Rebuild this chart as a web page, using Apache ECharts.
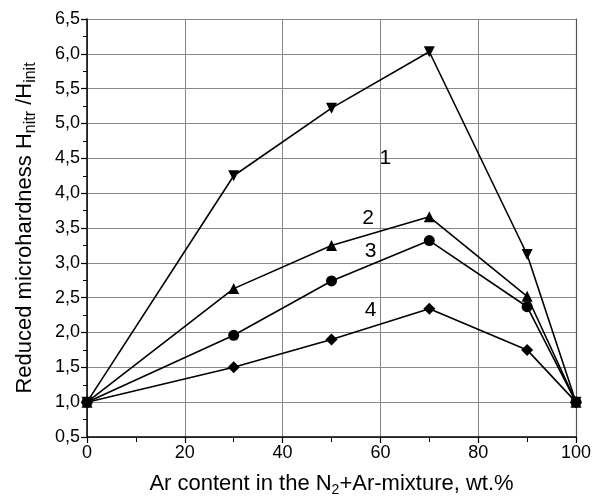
<!DOCTYPE html>
<html>
<head>
<meta charset="utf-8">
<script src="https://cdn.jsdelivr.net/npm/echarts@6/dist/echarts.min.js"></script>
<style>
  html, body { margin: 0; padding: 0; background: #fff; }
  #chart { width: 600px; height: 496px; }
</style>
</head>
<body>
<div id="chart"></div>
<script>
// Ar content, wt.%
let arContent = [0, 30, 50, 70, 90, 100];

// reduced microhardness for curves 1..4
let curve1 = [1.0, 4.25, 5.22, 6.03, 3.12, 1.0];
let curve2 = [1.0, 2.63, 3.25, 3.66, 2.52, 1.0];
let curve3 = [1.0, 1.96, 2.74, 3.32, 2.37, 1.0];
let curve4 = [1.0, 1.50, 1.90, 2.34, 1.75, 1.0];

let curveSymbols = ['triangle', 'triangle', 'circle', 'diamond'];
let curveRotate = [180, 0, 0, 0];

// curve number labels (data coords)
let labelText = ['1', '2', '3', '4'];
let labelX = [61, 57.5, 58, 58];
let labelY = [4.5, 3.64, 3.16, 2.32];

let fontFam = '"Liberation Sans", Arial, sans-serif';

function pairs(ys) {
    return arContent.map((x, i) => [x, ys[i]]);
}

let series = [curve1, curve2, curve3, curve4].map((ys, k) => ({
    type: 'line',
    data: pairs(ys),
    symbol: curveSymbols[k],
    symbolRotate: curveRotate[k],
    symbolSize: curveSymbols[k] === 'diamond' ? 12 : 11,
    showAllSymbol: true,
    itemStyle: { color: '#000' },
    lineStyle: { color: '#000', width: 1.6 },
    z: 3
}));

// curve numbers
series.push({
    type: 'scatter',
    symbolSize: 1,
    itemStyle: { color: 'rgba(0,0,0,0)', opacity: 1 },
    data: labelText.map((t, i) => ({ value: [labelX[i], labelY[i]], name: t })),
    label: {
        show: true,
        position: 'inside',
        formatter: p => p.name,
        color: '#000',
        opacity: 1,
        fontSize: 21,
        fontFamily: fontFam
    },
    z: 4
});

let option = {
    animation: false,
    backgroundColor: '#fff',
    grid: { left: 87, right: 24, top: 19, bottom: 59, outerBoundsMode: 'none' },
    xAxis: {
        type: 'value',
        min: 0,
        max: 100,
        interval: 20,
        name: '{a|Ar content in the N}{s|2}{a|+Ar-mixture, wt.%}',
        nameLocation: 'middle',
        nameGap: 34,
        nameTextStyle: {
            rich: {
                a: { fontSize: 22, fontFamily: fontFam, color: '#000' },
                s: { fontSize: 14, fontFamily: fontFam, color: '#000', padding: [12, 0, 0, 0] }
            }
        },
        axisLine: { lineStyle: { color: '#000', width: 1.5 } },
        axisTick: { show: true, length: 6, lineStyle: { color: '#000', width: 1.2 } },
        minorTick: { show: true, splitNumber: 2, length: 5, lineStyle: { color: '#000' } },
        axisLabel: { color: '#000', fontSize: 18, fontFamily: fontFam, margin: 7 },
        splitLine: { show: true, lineStyle: { color: '#888', width: 1 } }
    },
    yAxis: [{
        type: 'value',
        min: 0.5,
        max: 6.5,
        interval: 0.5,
        name: '{a|Reduced microhardness H}{s|nitr}{a| /H}{s|init}',
        nameLocation: 'middle',
        nameGap: 48,
        nameTextStyle: {
            rich: {
                a: { fontSize: 22, fontFamily: fontFam, color: '#000' },
                s: { fontSize: 16, fontFamily: fontFam, color: '#000', padding: [12, 0, 0, 0] }
            }
        },
        axisLine: { show: true, lineStyle: { color: '#000', width: 1.5 } },
        axisTick: { show: true, length: 6, lineStyle: { color: '#000', width: 1.2 } },
        minorTick: { show: true, splitNumber: 2, length: 4, lineStyle: { color: '#000' } },
        axisLabel: {
            color: '#000', fontSize: 18, fontFamily: fontFam, margin: 7,
            formatter: v => v.toFixed(1).replace('.', ',')
        },
        splitLine: { show: true, lineStyle: { color: '#888', width: 1 } }
    }, {
        type: 'value',
        position: 'right',
        min: 0.5,
        max: 6.5,
        interval: 0.5,
        axisLine: { show: true, lineStyle: { color: '#555', width: 1.2 } },
        axisTick: { show: false },
        axisLabel: { show: false },
        splitLine: { show: false }
    }],
    series: series
};

let chart = echarts.init(document.getElementById('chart'));
chart.setOption(option);
</script>
</body>
</html>
